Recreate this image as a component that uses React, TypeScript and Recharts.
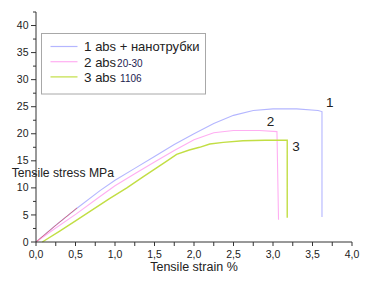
import { LineChart, Line, XAxis, YAxis, ReferenceDot } from "recharts";

// strain (%) / stress (MPa) pairs
const STRAIN_1 = [0, 0.25, 0.51, 0.81, 1.0, 1.25, 1.5, 1.75, 2.0, 2.25, 2.5, 2.75, 3.0, 3.3, 3.57, 3.62, 3.62];
const STRESS_1 = [0, 3.1, 6.15, 9.5, 11.4, 13.6, 15.8, 18.0, 20.0, 21.9, 23.4, 24.3, 24.6, 24.6, 24.3, 24.1, 4.6];

const STRAIN_2 = [0, 0.25, 0.51, 0.81, 1.0, 1.25, 1.5, 1.75, 2.0, 2.25, 2.5, 2.83, 3.05, 3.07];
const STRESS_2 = [0, 2.6, 5.2, 8.4, 10.4, 12.6, 14.8, 16.9, 18.9, 20.2, 20.6, 20.6, 20.4, 4.1];

const STRAIN_3 = [0.08, 0.3, 0.51, 0.93, 1.15, 1.35, 1.65, 1.78, 1.94, 2.07, 2.2, 2.37, 2.62, 2.9, 3.18, 3.18];
const STRESS_3 = [0, 2.0, 4.0, 8.0, 10.0, 12.0, 14.9, 16.2, 17.0, 17.5, 18.1, 18.4, 18.7, 18.8, 18.8, 4.5];

// short red trace at the start of curve 1
const STRAIN_R = [0, 0.26, 0.52];
const STRESS_R = [0, 3.2, 6.3];

const X_TICKS = [0, 0.25, 0.5, 0.75, 1, 1.25, 1.5, 1.75, 2, 2.25, 2.5, 2.75, 3, 3.25, 3.5, 3.75, 4];
const Y_TICKS = [0, 2.5, 5, 7.5, 10, 12.5, 15, 17.5, 20, 22.5, 25, 27.5, 30, 32.5, 35, 37.5, 40, 42.5];

const CURVE_LABELS = [
  { name: "1", x: 3.72, y: 25.9 },
  { name: "2", x: 2.97, y: 22.4 },
  { name: "3", x: 3.29, y: 17.7 },
];

const COLORS = {
  c1: "#b4b6ff",
  c2: "#ffaef2",
  c3: "#c2de44",
  red: "#e06060",
};

const FONT = "'Liberation Sans', Arial, sans-serif";
const INK = "#222";

const toPoints = (xs: number[], ys: number[]) => xs.map((x, i) => ({ x, y: ys[i] }));

const data1 = toPoints(STRAIN_1, STRESS_1);
const data2 = toPoints(STRAIN_2, STRESS_2);
const data3 = toPoints(STRAIN_3, STRESS_3);
const dataR = toPoints(STRAIN_R, STRESS_R);

function YTick({ x, y, payload }: any) {
  const v = payload.value as number;
  const major = v % 5 === 0;
  return (
    <g>
      <line x1={x - (major ? 5 : 3)} x2={x} y1={y} y2={y} stroke="#333" />
      {major && (
        <text x={x - 7.5} y={y + 3.6} textAnchor="end" fontSize={10.5} fontFamily={FONT} fill={INK}>
          {v}
        </text>
      )}
    </g>
  );
}

function XTick({ x, y, payload }: any) {
  const v = payload.value as number;
  const major = Math.abs(v * 2 - Math.round(v * 2)) < 1e-6;
  return (
    <g>
      <line x1={x} x2={x} y1={y} y2={y + 4} stroke="#333" />
      {major && (
        <text x={x} y={y + 16.3} textAnchor="middle" fontSize={10.5} fontFamily={FONT} fill={INK}>
          {v.toFixed(1).replace(".", ",")}
        </text>
      )}
    </g>
  );
}

function LegendBox() {
  const rows = [
    { color: COLORS.c1, num: "1", text: "abs + нанотрубки", small: "", gap: 0 },
    { color: COLORS.c2, num: "2", text: "abs", small: "20-30", gap: 1 },
    { color: COLORS.c3, num: "3", text: "abs", small: "1106", gap: 4 },
  ];
  return (
    <svg
      width={168}
      height={62}
      style={{ position: "absolute", left: 41, top: 33, display: "block", overflow: "visible" }}
    >
      <rect x={0.5} y={0.5} width={164} height={60.5} fill="#fff" stroke="#a8a8a8" />
      {rows.map((r, i) => (
        <g key={r.num}>
          <line x1={9.5} x2={36.5} y1={13.5 + i * 15.2} y2={13.5 + i * 15.2} stroke={r.color} strokeWidth={1.2} />
          <text x={43} y={18.4 + i * 15.3} fontFamily={FONT} fill={INK}>
            <tspan fontSize={13.5}>{r.num}</tspan>
            <tspan fontSize={13}> {r.text}</tspan>
            {r.small && (
              <tspan fontSize={10} dx={r.gap} fill="#1c1c50">
                {r.small}
              </tspan>
            )}
          </text>
        </g>
      ))}
    </svg>
  );
}

export default function App() {
  return (
    <div style={{ position: "absolute", left: 0, top: 0, width: 378, height: 302, background: "#fff" }}>
      <LineChart width={378} height={302} margin={{ top: 12, right: 26, bottom: 30, left: 0 }}>
        <XAxis
          dataKey="x"
          type="number"
          domain={[0, 4]}
          ticks={X_TICKS}
          interval={0}
          height={30}
          tickSize={0}
          tickMargin={0}
          tick={<XTick />}
          stroke="#333"
          label={{
            content: ({ viewBox }: any) => (
              <text
                x={viewBox.x + viewBox.width / 2}
                y={viewBox.y + 28.7}
                textAnchor="middle"
                fontSize={12.5}
                fontFamily={FONT}
                fill={INK}
              >
                Tensile strain %
              </text>
            ),
          }}
        />
        <YAxis
          dataKey="y"
          type="number"
          domain={[0, 42.5]}
          ticks={Y_TICKS}
          interval={0}
          width={36}
          tickSize={0}
          tickMargin={0}
          tick={<YTick />}
          stroke="#333"
          label={{
            content: ({ viewBox }: any) => (
              <text x={viewBox.x + 11.7} y={viewBox.y + 164.5} fontSize={12.2} fontFamily={FONT} fill={INK}>
                Tensile stress MPa
              </text>
            ),
          }}
        />
        <Line data={data1} dataKey="y" name="1" type="linear" stroke={COLORS.c1} strokeWidth={1.1} dot={false} isAnimationActive={false} />
        <Line data={data2} dataKey="y" name="2" type="linear" stroke={COLORS.c2} strokeWidth={1.1} dot={false} isAnimationActive={false} />
        <Line data={data3} dataKey="y" name="3" type="linear" stroke={COLORS.c3} strokeWidth={1.4} dot={false} isAnimationActive={false} />
        <Line data={dataR} dataKey="y" name="r" type="linear" stroke={COLORS.red} strokeWidth={0.8} dot={false} isAnimationActive={false} />
        {CURVE_LABELS.map((l) => (
          <ReferenceDot
            key={l.name}
            x={l.x}
            y={l.y}
            r={1}
            fill="none"
            stroke="none"
            label={{ value: l.name, position: "center", fontSize: 13.5, fontFamily: FONT, fill: INK }}
          />
        ))}
      </LineChart>
      <LegendBox />
    </div>
  );
}
